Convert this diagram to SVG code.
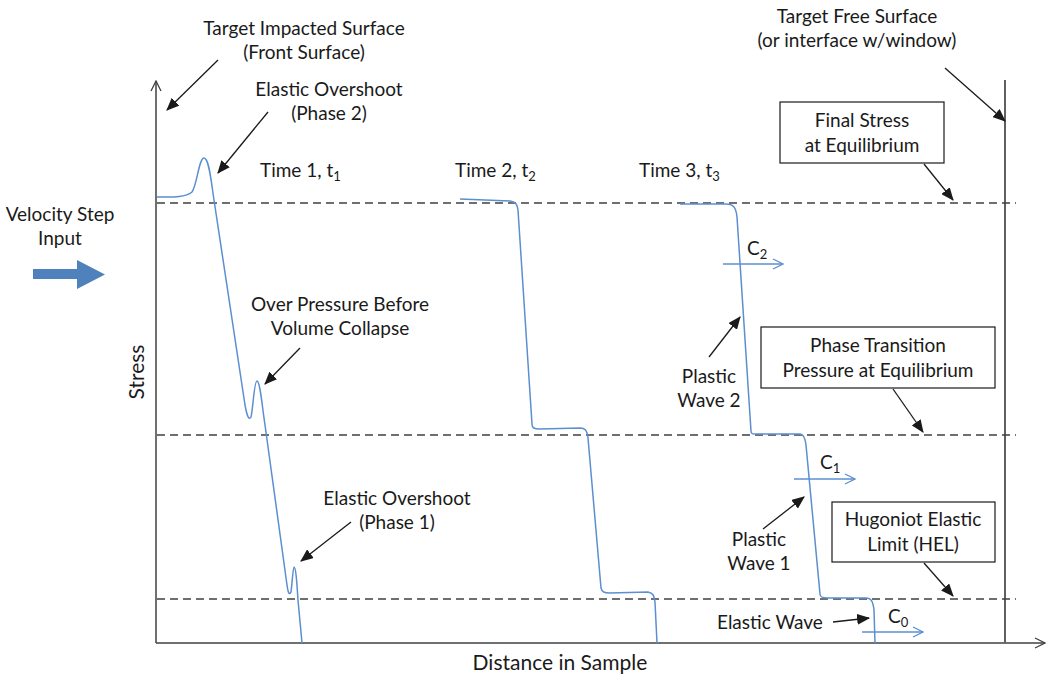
<svg xmlns="http://www.w3.org/2000/svg" width="1048" height="677" viewBox="0 0 1048 677">
<defs>
<style>
text{font-family:Lato,"Liberation Sans",sans-serif;font-size:19px;fill:#1a1a1a}
.c{text-anchor:middle}
.big{font-size:21px}
.axis{stroke:#404040;stroke-width:1.5;fill:none}
.dash{stroke:#404040;stroke-width:1.3;stroke-dasharray:8,5;fill:none}
.wave{stroke:#5b8fd0;stroke-width:1.5;fill:none}
.ann{stroke:#1a1a1a;stroke-width:1.3;fill:none;marker-end:url(#ah)}
.vel{stroke:#5b8fd0;stroke-width:1.3;fill:none;marker-end:url(#oh)}
.box{fill:#fff;stroke:#1a1a1a;stroke-width:1.2}
</style>
<marker id="ah" viewBox="0 0 12 10" refX="11" refY="5" markerWidth="13" markerHeight="11" markerUnits="userSpaceOnUse" orient="auto"><path d="M0,0 L12,5 L0,10 Z" fill="#1a1a1a"/></marker>
<marker id="oh" viewBox="0 0 12 12" refX="11" refY="6" markerWidth="12" markerHeight="12" markerUnits="userSpaceOnUse" orient="auto"><path d="M1,1 L11,6 L1,11" fill="none" stroke="#5b8fd0" stroke-width="1.3"/></marker>
<marker id="ax" viewBox="0 0 12 12" refX="11" refY="6" markerWidth="12" markerHeight="12" markerUnits="userSpaceOnUse" orient="auto"><path d="M1,1 L11,6 L1,11" fill="none" stroke="#404040" stroke-width="1.3"/></marker>
</defs>
<rect width="1048" height="677" fill="#fff"/>

<g id="axes">
<line class="axis" x1="156" y1="643" x2="156" y2="81" marker-end="url(#ax)"/>
<line class="axis" x1="156" y1="643" x2="1045" y2="643" marker-end="url(#ax)"/>
<line x1="1005" y1="80" x2="1005" y2="643" stroke="#606060" stroke-width="2"/>
<text class="c big" x="560" y="670">Distance in Sample</text>
<text class="c big" transform="translate(144,372) rotate(-90)">Stress</text>
</g>

<g id="levels">
<line class="dash" x1="157" y1="203" x2="1016" y2="203"/>
<line class="dash" x1="157" y1="435" x2="1016" y2="435"/>
<line class="dash" x1="157" y1="599" x2="1016" y2="599"/>
</g>

<g id="waves">
<path id="wave1" class="wave" d="M157,197 C170,197 185,198 192,192 C197,185 199,158 204,158 C209,158 211,180 214,200 L245,405 C247,416 249,421 251,417 C253,410 254,381 257,381 C260,381 262,405 265,425 L287,585 C288,592 289,596 291,592 C292,585 293,567 294,567 C296,567 297,585 298,600 L302,643"/>
<path id="wave2" class="wave" d="M460,199 L510,201 C515,202 517,203 518,210 L532,424 C532,428 534,429 540,429 L580,428 C585,428 587,430 588,438 L601,588 C602,592 604,593 610,593 L648,592 C653,593 654,595 655,602 L657,643"/>
<path id="wave3" class="wave" d="M680,204 L726,204 C733,204 736,207 737,217 L751,431 C751,434 752,434 758,434 L800,434 C803,434 805,437 806,445 L820,594 C820,597 822,598 828,598 L866,598 C871,598 873,601 874,610 L875,643"/>
</g>

<g id="input">
<text class="c" x="60" y="221">Velocity Step</text>
<text class="c" x="60" y="245">Input</text>
<path d="M33,269 L77,269 L77,260 L105,274.5 L77,289 L77,279 L33,279 Z" fill="#4f81bd"/>
</g>

<g id="times">
<text x="260" y="177">Time 1, t<tspan dy="4" font-size="13">1</tspan></text>
<text x="455" y="177">Time 2, t<tspan dy="4" font-size="13">2</tspan></text>
<text x="639" y="177">Time 3, t<tspan dy="4" font-size="13">3</tspan></text>
</g>

<g id="connectors">
<line class="ann" x1="218" y1="60" x2="167" y2="110"/>
<line class="ann" x1="268" y1="112" x2="218" y2="173"/>
<line class="ann" x1="300" y1="348" x2="265" y2="384"/>
<line class="ann" x1="351" y1="522" x2="301" y2="561"/>
<line class="ann" x1="945" y1="68" x2="1005" y2="121"/>
<line class="ann" x1="924" y1="164" x2="953" y2="200"/>
<line class="ann" x1="893" y1="389" x2="923" y2="432"/>
<line class="ann" x1="924" y1="563" x2="953" y2="596"/>
<line class="ann" x1="709" y1="357" x2="740" y2="317"/>
<line class="ann" x1="763" y1="529" x2="804" y2="497"/>
<line class="ann" x1="833" y1="622" x2="869" y2="618"/>
<line class="vel" x1="723" y1="264" x2="783" y2="264"/>
<line class="vel" x1="794" y1="479" x2="855" y2="479"/>
<line class="vel" x1="862" y1="632" x2="923" y2="632"/>
</g>

<g id="front-surface">
<text class="c" x="304" y="35">Target Impacted Surface</text>
<text class="c" x="304" y="59">(Front Surface)</text>
</g>
<g id="overshoot2">
<text class="c" x="329" y="96">Elastic Overshoot</text>
<text class="c" x="329" y="120">(Phase 2)</text>
</g>
<g id="overpressure">
<text class="c" x="340" y="311">Over Pressure Before</text>
<text class="c" x="340" y="335">Volume Collapse</text>
</g>
<g id="overshoot1">
<text class="c" x="397" y="505">Elastic Overshoot</text>
<text class="c" x="397" y="529">(Phase 1)</text>
</g>
<g id="free-surface">
<text class="c" x="857" y="23">Target Free Surface</text>
<text class="c" x="857" y="47">(or interface w/window)</text>
</g>
<g id="final-stress">
<rect class="box" x="780" y="102" width="164" height="61"/>
<text class="c" x="862" y="127">Final Stress</text>
<text class="c" x="862" y="152">at Equilibrium</text>
</g>
<g id="phase-transition">
<rect class="box" x="761" y="327" width="234" height="61"/>
<text class="c" x="878" y="352">Phase Transition</text>
<text class="c" x="878" y="377">Pressure at Equilibrium</text>
</g>
<g id="hel">
<rect class="box" x="832" y="502" width="163" height="60"/>
<text class="c" x="913" y="526">Hugoniot Elastic</text>
<text class="c" x="913" y="551">Limit (HEL)</text>
</g>
<g id="plastic2">
<text class="c" x="709" y="383">Plastic</text>
<text class="c" x="709" y="407">Wave 2</text>
</g>
<g id="plastic1">
<text class="c" x="759" y="546">Plastic</text>
<text class="c" x="759" y="570">Wave 1</text>
</g>
<g id="elastic-wave">
<text x="717" y="629">Elastic Wave</text>
</g>
<g id="speeds">
<text x="747" y="255">C<tspan dy="4" font-size="13">2</tspan></text>
<text x="820" y="469">C<tspan dy="4" font-size="13">1</tspan></text>
<text x="888" y="623">C<tspan dy="4" font-size="13">0</tspan></text>
</g>
</svg>
